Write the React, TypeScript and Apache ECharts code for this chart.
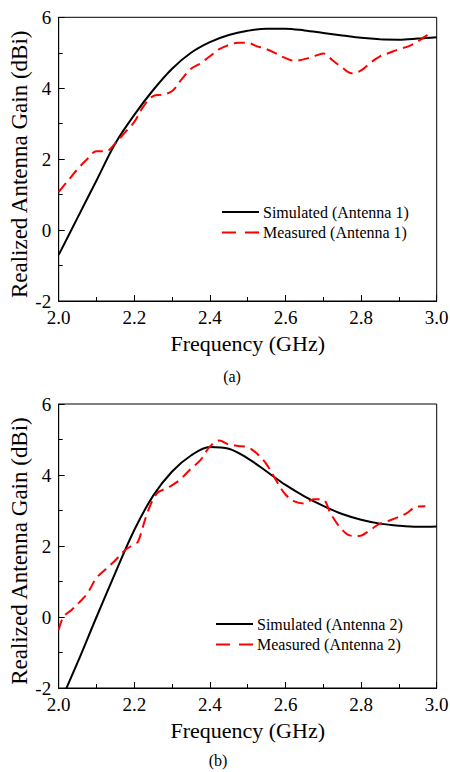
import React, { useEffect, useRef } from "react";
import * as echarts from "echarts";

// Antenna 1
const sim1Freq = [2.0, 2.05, 2.1, 2.15, 2.2, 2.25, 2.3, 2.35, 2.4, 2.45, 2.5, 2.55, 2.6, 2.65, 2.7, 2.75, 2.8, 2.85, 2.9, 2.95, 3.0];
const sim1Gain = [-0.7, 0.35, 1.4, 2.45, 3.25, 3.95, 4.55, 5.0, 5.3, 5.5, 5.62, 5.68, 5.68, 5.63, 5.56, 5.49, 5.42, 5.38, 5.37, 5.4, 5.44];
const meas1Freq = [2.0, 2.025, 2.05, 2.075, 2.1, 2.125, 2.15, 2.175, 2.2, 2.225, 2.25, 2.275, 2.3, 2.325, 2.35, 2.375, 2.4, 2.425, 2.45, 2.475, 2.5, 2.525, 2.55, 2.575, 2.6, 2.625, 2.65, 2.675, 2.7, 2.725, 2.75, 2.775, 2.8, 2.825, 2.85, 2.875, 2.9, 2.925, 2.95, 2.975, 2.99];
const meas1Gain = [1.08, 1.4, 1.72, 2.0, 2.22, 2.22, 2.45, 2.75, 3.05, 3.5, 3.78, 3.82, 3.92, 4.25, 4.55, 4.7, 4.9, 5.1, 5.22, 5.28, 5.28, 5.18, 5.1, 4.98, 4.85, 4.77, 4.82, 4.9, 4.98, 4.78, 4.58, 4.42, 4.5, 4.72, 4.9, 5.0, 5.1, 5.18, 5.32, 5.5, 5.58];

// Antenna 2
const sim2Freq = [2.0, 2.05, 2.1, 2.15, 2.2, 2.25, 2.3, 2.35, 2.4, 2.45, 2.5, 2.55, 2.6, 2.65, 2.7, 2.75, 2.8, 2.85, 2.9, 2.95, 3.0];
const sim2Gain = [-2.5, -1.28, 0.0, 1.25, 2.45, 3.42, 4.1, 4.55, 4.79, 4.74, 4.47, 4.1, 3.72, 3.4, 3.13, 2.9, 2.74, 2.63, 2.57, 2.54, 2.55];
const meas2Freq = [2.0, 2.012, 2.034, 2.055, 2.075, 2.1, 2.125, 2.15, 2.175, 2.2, 2.21, 2.235, 2.26, 2.29, 2.32, 2.35, 2.375, 2.4, 2.425, 2.45, 2.475, 2.5, 2.525, 2.55, 2.575, 2.6, 2.625, 2.65, 2.675, 2.7, 2.72, 2.745, 2.77, 2.795, 2.82, 2.845, 2.87, 2.895, 2.92, 2.945, 2.97];
const meas2Gain = [-0.37, 0.0, 0.2, 0.42, 0.65, 1.1, 1.35, 1.6, 1.88, 2.05, 2.12, 2.95, 3.48, 3.65, 3.86, 4.18, 4.42, 4.8, 4.97, 4.86, 4.82, 4.78, 4.6, 4.3, 3.85, 3.45, 3.25, 3.2, 3.32, 3.3, 2.9, 2.52, 2.3, 2.28, 2.42, 2.6, 2.7, 2.8, 2.92, 3.1, 3.12];

// Tick labels
const xTicks = [2.0, 2.2, 2.4, 2.6, 2.8, 3.0];
const yTicks = [-2, 0, 2, 4, 6];

const seriesNames = [
  "Simulated (Antenna 1)",
  "Measured (Antenna 1)",
  "Simulated (Antenna 2)",
  "Measured (Antenna 2)",
];
const captions = ["(a)", "(b)"];
const xTitle = "Frequency (GHz)";
const yTitle = "Realized Antenna Gain (dBi)";

const FONT = "'Liberation Serif', 'Times New Roman', serif";
const BASE = 16;

const pairs = (xs: number[], ys: number[]) => xs.map((x, i) => [x, ys[i]]);

export default function App() {
  const ref = useRef<HTMLDivElement>(null);
  useEffect(() => {
    if (!ref.current) return;
    const chart = echarts.init(ref.current, undefined, { renderer: "svg" });
    const grids = [
      { left: 58.7, top: 17.3, width: 378, height: 283.7 },
      { left: 58.7, top: 404, width: 378, height: 284 },
    ];
    const xAxes = grids.map((_, i) => ({
      type: "value",
      gridIndex: i,
      min: 2,
      max: 3,
      interval: 0.2,
      axisLine: { show: true, onZero: false, lineStyle: { color: "#000", width: 1 } },
      axisTick: { show: true, inside: true, length: 6, lineStyle: { color: "#000" } },
      minorTick: { show: true, splitNumber: 2, length: 4, lineStyle: { color: "#000" } },
      splitLine: { show: false },
      minorSplitLine: { show: false },
      axisLabel: { show: false },
    }));
    const yAxes = grids.map((_, i) => ({
      type: "value",
      gridIndex: i,
      min: -2,
      max: 6,
      interval: 2,
      axisLine: { show: true, onZero: false, lineStyle: { color: "#000", width: 1 } },
      axisTick: { show: true, inside: true, length: 6, lineStyle: { color: "#000" } },
      minorTick: { show: true, splitNumber: 2, length: 4, lineStyle: { color: "#000" } },
      splitLine: { show: false },
      minorSplitLine: { show: false },
      axisLabel: { show: false },
    }));
    const datasets = [
      pairs(sim1Freq, sim1Gain),
      pairs(meas1Freq, meas1Gain),
      pairs(sim2Freq, sim2Gain),
      pairs(meas2Freq, meas2Gain),
    ];
    const series = datasets.map((d, i) => {
      const measured = i % 2 === 1;
      const gi = i < 2 ? 0 : 1;
      return {
        type: "line",
        name: seriesNames[i],
        xAxisIndex: gi,
        yAxisIndex: gi,
        data: d,
        smooth: 0.35,
        showSymbol: false,
        symbol: "none",
        clip: true,
        color: measured ? "#ff0000" : "#000000",
        lineStyle: {
          color: measured ? "#ff0000" : "#000000",
          width: 2,
          type: measured ? [11, 6] : "solid",
        },
        z: measured ? 3 : 2,
      };
    });
    chart.setOption({
      animation: false,
      backgroundColor: "#fff",
      grid: grids.map((g) => ({ ...g, show: true, borderColor: "#000", borderWidth: 1, backgroundColor: "transparent" })),
      xAxis: xAxes,
      yAxis: yAxes,
      series,
    });

    const texts: any[] = [];
    // Text rendered at BASE px and scaled up to the wanted size
    const txt = (text: string, x: number, y: number, size: number, align: string, vAlign: string, rotation = 0) => ({
      type: "text",
      x,
      y,
      rotation,
      scaleX: size / BASE,
      scaleY: size / BASE,
      silent: true,
      style: {
        text,
        font: `${BASE}px ${FONT}`,
        fill: "#000",
        align,
        verticalAlign: vAlign,
        textAlign: align,
        textVerticalAlign: vAlign,
      },
    });
    grids.forEach((_, gi) => {
      const finder = { xAxisIndex: gi, yAxisIndex: gi };
      xTicks.forEach((t) => {
        const [px, py] = chart.convertToPixel(finder as any, [t, -2]) as number[];
        texts.push(txt(t.toFixed(1), px, py + 16, 19, "center", "middle"));
      });
      yTicks.forEach((t) => {
        const [px, py] = chart.convertToPixel(finder as any, [2, t]) as number[];
        texts.push(txt(String(t), px - 7.5, py, 19, "right", "middle"));
      });
      const [cx0] = chart.convertToPixel(finder as any, [2.5, 0]) as number[];
      const [, yBottom] = chart.convertToPixel(finder as any, [2, -2]) as number[];
      const [, yTop] = chart.convertToPixel(finder as any, [2, 6]) as number[];
      texts.push(txt(xTitle, cx0, yBottom + 42.5, 22, "center", "middle"));
      texts.push(txt(yTitle, 19.5, yTop + 147, 23, "center", "middle", Math.PI / 2));
    });

    // Legends drawn as graphic lines + texts
    const legendPos = [
      { x: 222, y: 212 },
      { x: 216, y: 624 },
    ];
    legendPos.forEach((p, g) => {
      [0, 1].forEach((k) => {
        const idx = g * 2 + k;
        const measured = k === 1;
        const y = p.y + k * 20.5;
        texts.push({
          type: "line",
          shape: { x1: p.x, y1: y, x2: p.x + 37, y2: y },
          style: {
            stroke: measured ? "#ff0000" : "#000",
            lineWidth: 2.2,
            lineDash: measured ? [14, 9] : null,
          },
        });
        texts.push(txt(seriesNames[idx], p.x + 41, y, 16, "left", "middle"));
      });
    });
    texts.push(txt(captions[0], 232, 376.5, 16, "center", "middle"));
    texts.push(txt(captions[1], 218, 760.5, 16, "center", "middle"));

    chart.setOption({ graphic: texts });
    return () => chart.dispose();
  }, []);
  return (
    <div
      ref={ref}
      style={{ position: "absolute", left: 0, top: 0, width: 450, height: 772, background: "#fff" }}
    />
  );
}
